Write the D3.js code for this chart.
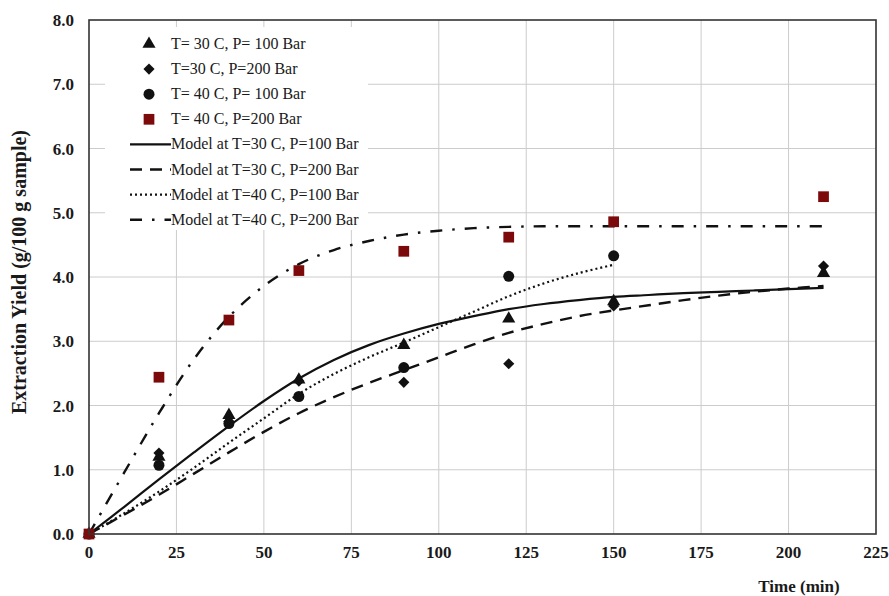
<!DOCTYPE html>
<html>
<head>
<meta charset="utf-8">
<script src="https://cdn.jsdelivr.net/npm/d3@7/dist/d3.min.js"></script>
<style>
  body { margin: 0; background: #fff; }
  text { font-family: "Liberation Serif", "Times New Roman", serif; fill: #1a1a1a; }
</style>
</head>
<body>
<div id="chart"></div>
<script>
// ----------------------
// Data
// ----------------------
const expTimes = [0, 20, 40, 60, 90, 120, 150, 210];
const yieldT30P100 = [0, 1.20, 1.85, 2.40, 2.94, 3.35, 3.62, 4.06];
const yieldT30P200 = [0, 1.26, 1.75, 2.38, 2.36, 2.65, 3.55, 4.17];
const circTimes = [0, 20, 40, 60, 90, 120, 150];
const yieldT40P100 = [0, 1.07, 1.72, 2.14, 2.59, 4.01, 4.33];
const yieldT40P200 = [0, 2.44, 3.33, 4.10, 4.40, 4.62, 4.86, 5.25];

const modelTimes = [0, 10, 20, 30, 40, 50, 60, 70, 80, 90, 100, 110, 120, 130, 140, 150, 160, 170, 180, 190, 200, 210];
const modelT30P100 = [0, 0.42, 0.85, 1.27, 1.68, 2.07, 2.42, 2.71, 2.94, 3.12, 3.27, 3.39, 3.50, 3.58, 3.64, 3.69, 3.72, 3.75, 3.77, 3.79, 3.81, 3.83];
const modelT30P200 = [0, 0.30, 0.61, 0.94, 1.27, 1.59, 1.88, 2.13, 2.35, 2.55, 2.75, 2.95, 3.13, 3.27, 3.39, 3.48, 3.56, 3.64, 3.71, 3.77, 3.82, 3.86];
const modelT40P100 = [0, 0.32, 0.66, 1.03, 1.42, 1.80, 2.18, 2.49, 2.75, 2.98, 3.22, 3.46, 3.70, 3.90, 4.06, 4.19];
const modelT40P200 = [0, 0.95, 1.88, 2.72, 3.38, 3.86, 4.20, 4.42, 4.56, 4.66, 4.72, 4.76, 4.78, 4.79, 4.79, 4.79, 4.79, 4.79, 4.79, 4.79, 4.79, 4.79];

const xTicks = [0, 25, 50, 75, 100, 125, 150, 175, 200, 225];
const yTicks = [0, 1, 2, 3, 4, 5, 6, 7, 8];

const legendLabels = [
  "T= 30 C, P= 100 Bar",
  "T=30 C, P=200 Bar",
  "T= 40 C, P= 100 Bar",
  "T= 40 C, P=200 Bar",
  "Model at T=30 C, P=100 Bar",
  "Model at T=30 C, P=200 Bar",
  "Model at T=40 C, P=100 Bar",
  "Model at T=40 C, P=200 Bar"
];

// ----------------------
// Setup
// ----------------------
const width = 889, height = 596;
const plot = { left: 89, right: 876, top: 20, bottom: 534 };

const svg = d3.select("#chart").append("svg")
    .attr("width", width)
    .attr("height", height);

const x = d3.scaleLinear().domain([0, 225]).range([plot.left, plot.right]);
const y = d3.scaleLinear().domain([0, 8]).range([plot.bottom, plot.top]);

const darkRed = "#7d0a0a";

// gridlines
svg.append("g").selectAll("line.v")
    .data(xTicks.slice(1, -1))
    .enter().append("line")
    .attr("x1", d => x(d)).attr("x2", d => x(d))
    .attr("y1", plot.top).attr("y2", plot.bottom)
    .attr("stroke", "#cccccc").attr("stroke-width", 1);

svg.append("g").selectAll("line.h")
    .data(yTicks.slice(1, -1))
    .enter().append("line")
    .attr("x1", plot.left).attr("x2", plot.right)
    .attr("y1", d => y(d)).attr("y2", d => y(d))
    .attr("stroke", "#cccccc").attr("stroke-width", 1);

// legend background (hides grid)
const legend = { x: 105, y: 27, w: 263, h: 203, row: 25.1 };
svg.append("rect")
    .attr("x", legend.x).attr("y", legend.y)
    .attr("width", legend.w).attr("height", legend.h)
    .attr("fill", "#fff");

// ----------------------
// Model curves
// ----------------------
const styles = [
  { dash: null, w: 2.2 },
  { dash: "12,8", w: 2.4 },
  { dash: "2,3", w: 2.2 },
  { dash: "12,10,2.5,10", w: 2.4 }
];
const models = [modelT30P100, modelT30P200, modelT40P100, modelT40P200];

const line = d3.line()
    .x(d => x(d[0]))
    .y(d => y(d[1]))
    .curve(d3.curveCatmullRom.alpha(0.5));

models.forEach((vals, i) => {
  svg.append("path")
    .datum(vals.map((v, j) => [modelTimes[j], v]))
    .attr("d", line)
    .attr("fill", "none")
    .attr("stroke", "#111")
    .attr("stroke-width", styles[i].w)
    .attr("stroke-dasharray", styles[i].dash);
});

// ----------------------
// Experimental points
// ----------------------
const symTri = d3.symbol().type(d3.symbolTriangle).size(75);
const symDia = d3.symbol().type(d3.symbolSquare).size(62);
const symCirc = d3.symbol().type(d3.symbolCircle).size(95);
const symSq = d3.symbol().type(d3.symbolSquare).size(115);

function drawPoints(times, vals, sym, color, rot) {
  svg.append("g").selectAll("path")
    .data(vals.map((v, j) => [times[j], v]))
    .enter().append("path")
    .attr("transform", d => `translate(${x(d[0])},${y(d[1])})` + (rot ? " rotate(45)" : ""))
    .attr("d", sym)
    .attr("fill", color);
}
drawPoints(circTimes, yieldT40P100, symCirc, "#111");
drawPoints(expTimes, yieldT30P100, symTri, "#111");
drawPoints(expTimes, yieldT30P200, symDia, "#111", true);
drawPoints(expTimes, yieldT40P200, symSq, darkRed);

// frame
svg.append("rect")
    .attr("x", plot.left).attr("y", plot.top)
    .attr("width", plot.right - plot.left).attr("height", plot.bottom - plot.top)
    .attr("fill", "none").attr("stroke", "#333").attr("stroke-width", 1.6);

// ----------------------
// Axes labels
// ----------------------
svg.append("g").selectAll("text")
    .data(yTicks)
    .enter().append("text")
    .attr("x", 74)
    .attr("y", d => y(d) + 6)
    .attr("text-anchor", "end")
    .attr("font-weight", "bold")
    .attr("font-size", 17)
    .text(d => d.toFixed(1));

svg.append("g").selectAll("text")
    .data(xTicks)
    .enter().append("text")
    .attr("x", d => x(d))
    .attr("y", 558)
    .attr("text-anchor", "middle")
    .attr("font-weight", "bold")
    .attr("font-size", 17)
    .text(d => d);

svg.append("text")
    .attr("x", 799).attr("y", 592)
    .attr("text-anchor", "middle")
    .attr("font-weight", "bold")
    .attr("font-size", 17)
    .text("Time (min)");

svg.append("text")
    .attr("transform", "translate(26,272) rotate(-90)")
    .attr("text-anchor", "middle")
    .attr("font-weight", "bold")
    .attr("font-size", 20)
    .text("Extraction Yield (g/100 g sample)");

// ----------------------
// Legend
// ----------------------
const legSyms = [[symTri, "#111", false], [symDia, "#111", true], [symCirc, "#111", false], [symSq, darkRed, false]];
legendLabels.forEach((label, i) => {
  const cy = 44 + i * legend.row;
  if (i < 4) {
    svg.append("path")
      .attr("transform", `translate(149,${cy})` + (legSyms[i][2] ? " rotate(45)" : ""))
      .attr("d", legSyms[i][0])
      .attr("fill", legSyms[i][1]);
  } else {
    const s = styles[i - 4];
    svg.append("line")
      .attr("x1", 130).attr("x2", 171)
      .attr("y1", cy).attr("y2", cy)
      .attr("stroke", "#111")
      .attr("stroke-width", s.w)
      .attr("stroke-dasharray", s.dash);
  }
  svg.append("text")
    .attr("x", 171)
    .attr("y", cy + 5)
    .attr("font-size", 16)
    .text(label);
});
</script>
</body>
</html>
